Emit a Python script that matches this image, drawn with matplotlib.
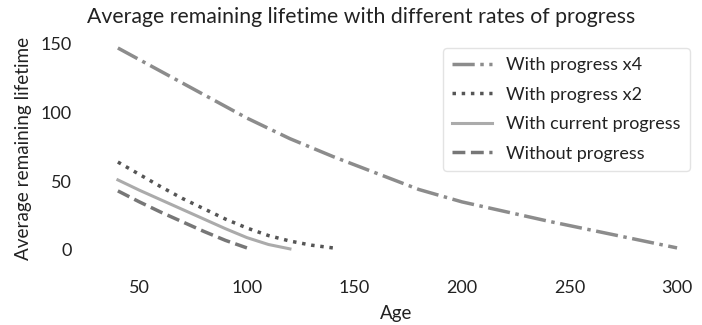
import matplotlib.pyplot as plt

# ages and remaining lifetime
age_x4 = [40, 60, 80, 100, 120, 140, 160, 180, 200, 220, 240, 260, 280, 300]
life_x4 = [147, 130, 113, 96, 81, 68, 56, 44, 35, 28, 21, 14.5, 8, 1.5]

age_x2 = [40, 50, 60, 70, 80, 90, 100, 110, 120, 130, 140]
life_x2 = [64, 55, 46, 37.5, 30, 22.5, 16, 10.5, 6.5, 3.5, 1.5]

age_cur = [40, 50, 60, 70, 80, 90, 100, 110, 120]
life_cur = [51, 43.5, 36.5, 29.5, 22.5, 15.5, 9, 4, 0.8]

age_none = [40, 50, 60, 70, 80, 90, 100]
life_none = [43, 35, 27.5, 20.5, 13.5, 7, 1.5]

plt.rcParams['font.family'] = ['Lato', 'DejaVu Sans']

fig = plt.figure(figsize=(7.02, 3.25), dpi=100)
ax = fig.add_axes([89.5 / 702, (325 - 259.6) / 325, (702 - 89.5) / 702, (259.6 - 37) / 325])

ax.plot(age_x4, life_x4, linestyle='-.', color='#8c8c8c', lw=2.5, label='With progress x4')
ax.plot(age_x2, life_x2, linestyle=':', color='#555555', lw=2.5, label='With progress x2')
ax.plot(age_cur, life_cur, linestyle='-', color='#ababab', lw=2.2, label='With current progress')
ax.plot(age_none, life_none, linestyle='--', color='#777777', lw=2.5, label='Without progress')

ax.set_xlim(26.8, 311.6)
ax.set_ylim(-7, 155)
ax.set_xticks([50, 100, 150, 200, 250, 300])
ax.set_yticks([0, 50, 100, 150])
for s in ax.spines.values():
    s.set_visible(False)
ax.tick_params(length=0, labelsize=13, labelcolor='#222222')
ax.tick_params(axis='x', pad=15)
ax.tick_params(axis='y', pad=13)

ax.set_xlabel('Age', fontsize=13.5, color='#222222', labelpad=6)
ax.set_ylabel('Average remaining lifetime', fontsize=13.6, color='#222222', labelpad=6)
ax.set_title('Average remaining lifetime with different rates of progress',
             fontsize=15.3, color='#222222', x=(361 - 89.5) / 612.5, pad=10)

leg = ax.legend(loc='upper right', bbox_to_anchor=(690 / 702, 1 - 48 / 325),
                bbox_transform=fig.transFigure, borderaxespad=0, fontsize=13,
                handlelength=2.2, labelspacing=0.75, borderpad=0.5,
                frameon=True, fancybox=True)
leg.get_frame().set_edgecolor('#dddddd')
for t in leg.get_texts():
    t.set_color('#222222')

plt.savefig('out.png')
